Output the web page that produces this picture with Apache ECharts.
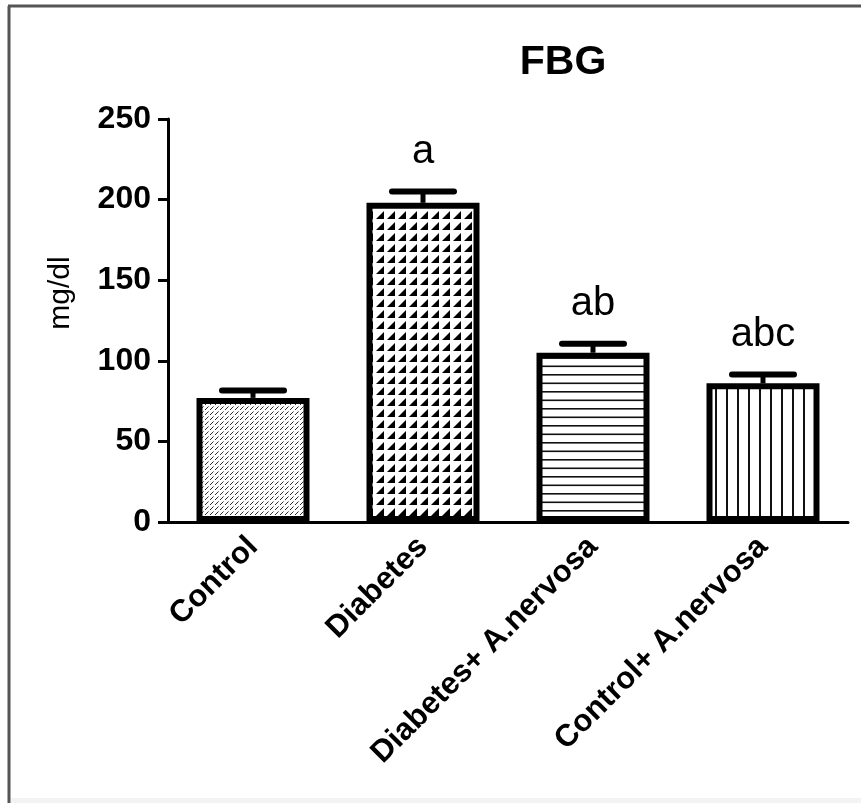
<!DOCTYPE html>
<html><head><meta charset="utf-8">
<script src="https://cdn.jsdelivr.net/npm/echarts@6/dist/echarts.min.js"></script>
<style>html,body{margin:0;padding:0;background:#fff}#c{width:861px;height:803px}</style>
</head><body><div id="c"></div>
<script>
const categories = ['Control', 'Diabetes', 'Diabetes+ A.nervosa', 'Control+ A.nervosa'];
const means = [77, 198, 105, 86];
const sems = [4.5, 7, 5.5, 5.5];
const sigLetters = ['', 'a', 'ab', 'abc'];
const yMin = 0, yMax = 250, yStep = 50;
const yTitle = 'mg/dl';
const chartTitle = 'FBG';

const FONT = '"Liberation Sans", Arial, Helvetica, sans-serif';

function pat(w, h, draw) {
  const c = document.createElement('canvas');
  c.width = w; c.height = h;
  const g = c.getContext('2d');
  g.fillStyle = '#fff'; g.fillRect(0, 0, w, h);
  draw(g, w, h);
  return { image: c, repeat: 'repeat' };
}
const fills = [
  pat(5, 5, g => { g.fillStyle = '#2e2e2e'; g.fillRect(0, 4, 1, 1); g.fillRect(1, 3, 1, 1); g.fillRect(2, 2, 1, 1); g.fillStyle = '#8a8a8a'; g.fillRect(3, 1, 1, 1); }),
  pat(11, 11, g => { g.fillStyle = '#000'; g.beginPath(); g.moveTo(2, 10); g.lineTo(10, 10); g.lineTo(10, 2); g.closePath(); g.fill(); }),
  pat(4, 17, g => { g.fillStyle = '#111'; g.fillRect(0, 0, 4, 1.6); g.fillRect(0, 8.5, 4, 1.6); }),
  pat(11, 4, g => { g.fillStyle = '#111'; g.fillRect(0, 0, 2, 4); })
];

const chart = echarts.init(document.getElementById('c'));
chart.setOption({
  backgroundColor: '#fff',
  animation: false,
  title: {
    text: chartTitle, left: 558, top: 37, textAlign: 'center',
    textStyle: { fontFamily: FONT, fontWeight: 'bold', fontSize: 41, color: '#000' }
  },
  graphic: [
    { type: 'line', shape: { x1: 8, y1: 6, x2: 861, y2: 6 }, style: { stroke: '#555', lineWidth: 3 }, silent: true },
    { type: 'line', shape: { x1: 9, y1: 6, x2: 9, y2: 803 }, style: { stroke: '#555', lineWidth: 3 }, silent: true },
    { type: 'rect', shape: { x: 11, y: 798, width: 850, height: 5 }, style: { fill: '#f3f3f3' }, silent: true },
    { type: 'text', x: 61, y: 293, rotation: Math.PI / 2, silent: true,
      style: { text: yTitle, align: 'center', verticalAlign: 'middle', fontFamily: FONT, fontSize: 30, fill: '#000' } }
  ],
  grid: { left: 168, right: 13, top: 119, bottom: 281, containLabel: false },
  xAxis: {
    type: 'category', data: categories,
    axisLine: { lineStyle: { color: '#000', width: 3 } },
    axisTick: { alignWithLabel: true, length: 10, lineStyle: { color: '#000', width: 3 } },
    axisLabel: { interval: 0, rotate: 45, margin: 20, color: '#000', fontFamily: FONT, fontWeight: 'bold', fontSize: 31 },
    splitLine: { show: false }
  },
  yAxis: {
    type: 'value', min: yMin, max: yMax, interval: yStep,
    axisLine: { show: true, lineStyle: { color: '#000', width: 3 } },
    axisTick: { show: true, length: 10, lineStyle: { color: '#000', width: 3 } },
    axisLabel: { margin: 17, color: '#000', fontFamily: FONT, fontWeight: 'bold', fontSize: 32 },
    splitLine: { show: false }
  },
  series: [
    {
      type: 'bar', barWidth: 113,
      data: means.map((v, i) => ({ value: v, itemStyle: { color: fills[i] } })),
      itemStyle: { borderColor: '#000', borderWidth: 6 }
    },
    {
      type: 'custom', clip: false, z: 5,
      encode: { x: 0, y: 1 },
      data: categories.map((c, i) => [i, means[i], sems[i]]),
      renderItem: function (params, api) {
        const x = api.value(0), v = api.value(1), e = api.value(2);
        const letter = sigLetters[params.dataIndex];
        const p0 = api.coord([x, v]);
        const p1 = api.coord([x, v + e]);
        const half = 31;
        return {
          type: 'group',
          children: [
            { type: 'line', shape: { x1: p0[0], y1: p0[1], x2: p1[0], y2: p1[1] }, style: { stroke: '#000', lineWidth: 5 } },
            { type: 'line', shape: { x1: p1[0] - half, y1: p1[1], x2: p1[0] + half, y2: p1[1] }, style: { stroke: '#000', lineWidth: 6, lineCap: 'round' } },
            { type: 'text', style: { text: letter, x: p1[0], y: p1[1] - 20, align: 'center', verticalAlign: 'bottom', fontFamily: FONT, fontSize: 40, fill: '#000' } }
          ]
        };
      }
    }
  ]
});
</script>
</body></html>
